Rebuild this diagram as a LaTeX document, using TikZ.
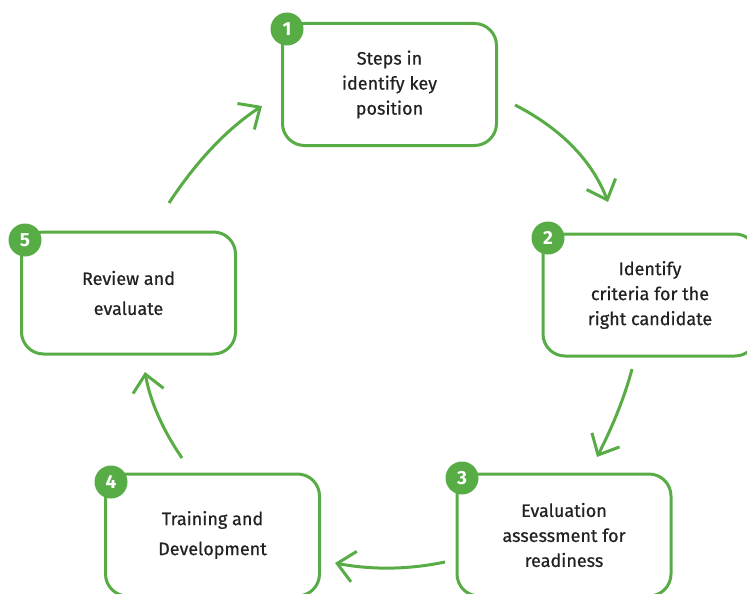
\documentclass[tikz,border=0pt]{standalone}
\usepackage{fontspec}
\setmainfont{Fira Sans}
\newfontfamily\medfont{Fira Sans}[FakeBold=0.6]
\usetikzlibrary{arrows.meta}
\definecolor{grn}{RGB}{88,172,69}
\definecolor{txt}{RGB}{34,34,34}
\begin{document}
\begin{tikzpicture}[x=1pt,y=-1pt,
  box/.style={draw=grn, line width=3pt, rounded corners=22pt, minimum width=214pt, minimum height=122pt, fill=white, text=txt, align=center, inner sep=0pt},
  three/.style={font=\medfont\fontsize{18}{25}\selectfont},
  two/.style={font=\medfont\fontsize{18}{30}\selectfont},
  badge/.style={circle, fill=grn, minimum size=33pt, inner sep=0pt, text=white, font=\fontsize{19}{19}\selectfont\bfseries},
  flow/.style={draw=grn, line width=3pt, -{Straight Barb[length=17pt,width=31pt]}}]
\useasboundingbox (0,0) rectangle (747,594);
% boxes
\node[box,three] (b1) at (389.5,84.5) {Steps in\\identify key\\position};
\node[box,three] (b2) at (650,295) {Identify\\criteria for the\\right candidate};
\node[box,three] (b3) at (564,535) {Evaluation\\assessment for\\readiness};
\node[box,two] (b4) at (212.5,535) {Training and\\Development};
\node[box,two] (b5) at (128.5,293) {Review and\\evaluate};
% badges
\node[badge] (n1) at (287,29) {1};
\node[badge] (n2) at (548,238) {2};
\node[badge] (n3) at (462,478) {3};
\node[badge] (n4) at (111,482) {4};
\node[badge] (n5) at (25,240) {5};
% arrow end points
\coordinate (s12) at (515,105);  \coordinate (e12) at (608,202);
\coordinate (s23) at (632,369);  \coordinate (e23) at (597,457);
\coordinate (s34) at (445,562);  \coordinate (e34) at (335,563);
\coordinate (s45) at (182,458);  \coordinate (e45) at (145,372);
\coordinate (s51) at (169,203);  \coordinate (e51) at (262,106);
\draw[flow] (s12) .. controls (561.3,128.7) and (592.3,161) .. (e12);
\draw[flow] (s23) .. controls (625,395.7) and (613.3,425) .. (e23);
\draw[flow] (s34) .. controls (408.3,569.7) and (371.7,570) .. (e34);
\draw[flow] (s45) .. controls (162.3,429.3) and (150,400.7) .. (e45);
\draw[flow] (s51) .. controls (196.7,160.7) and (227.7,128.3) .. (e51);
\end{tikzpicture}
\end{document}
